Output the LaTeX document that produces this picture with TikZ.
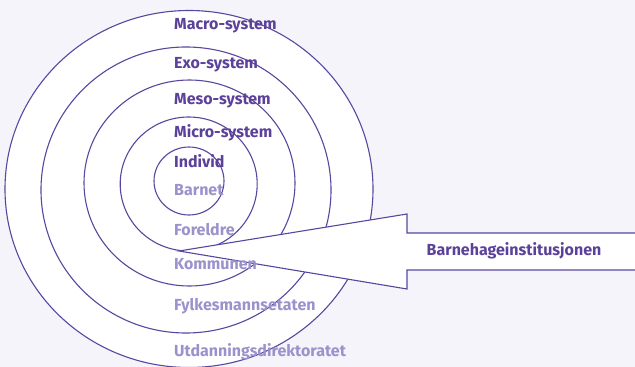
\documentclass[tikz,border=0pt]{standalone}
\usepackage{fontspec}
\setmainfont{Fira Sans}

\definecolor{ringline}{HTML}{5A46A0}
\definecolor{darktext}{HTML}{5B4199}
\definecolor{lighttext}{HTML}{9C92CB}
\definecolor{backdrop}{HTML}{F5F4FA}

\begin{document}
\begin{tikzpicture}[x=1pt,y=-1pt]
		\tikzset{ring/.style={draw=ringline,fill=white,line width=1.1pt}}
		\tikzset{level/.style={anchor=base west,inner sep=0pt,font=\fontsize{16}{19}\selectfont\bfseries}}
		\tikzset{system/.style={level,text=darktext}}
		\tikzset{actor/.style={level,text=lighttext}}
		\fill[backdrop] (0,0) rectangle (635,367);
		\useasboundingbox (0,0) rectangle (635,367);
		% rings, outermost first
		\draw[ring] (189,189) ellipse [x radius=184,y radius=178.5];
		\draw[ring] (186,190) ellipse [x radius=145,y radius=143];
		\draw[ring] (189.5,183) ellipse [x radius=105.5,y radius=103];
		\draw[ring] (188.7,184) ellipse [x radius=68.5,y radius=67];
		\draw[ring] (189,181) ellipse [x radius=35,y radius=34];
		% arrow pointing in
		\coordinate (tip) at (179,251);
		\coordinate (headtop) at (407,214);
		\coordinate (headbot) at (407,289);
		\draw[ring] (635,233) -- (407,233) -- (headtop) -- (tip) -- (headbot) -- (407,270) -- (635,270);
		\node[system,anchor=base] (inst) at (514,255) {Barnehageinstitusjonen};
		% levels
		\node[system] (macro) at (174,29.5) {Macro-system};
		\node[system] (exo) at (174,68.5) {Exo-system};
		\node[system] (meso) at (174,104) {Meso-system};
		\node[system] (micro) at (174,137) {Micro-system};
		\node[system] (individ) at (174,167) {Individ};
		\node[actor] (barnet) at (174,195) {Barnet};
		\node[actor] (foreldre) at (174,235) {Foreldre};
		\node[actor] (kommunen) at (174,269) {Kommunen};
		\node[actor] (fylke) at (174,310) {Fylkesmannsetaten};
		\node[actor] (udir) at (174,356) {Utdanningsdirektoratet};
\end{tikzpicture}
\end{document}
